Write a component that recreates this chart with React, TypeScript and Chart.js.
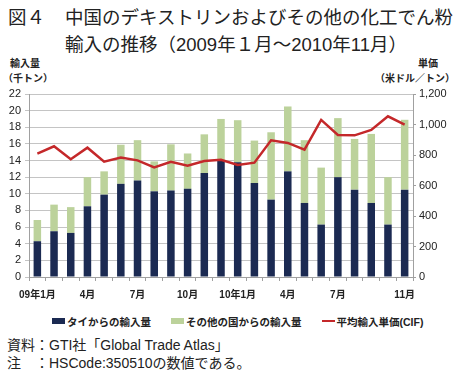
import React, { useEffect, useRef } from "react";
import { Chart, registerables } from "chart.js";

Chart.register(...registerables);

const months = [
  "2009-01","2009-02","2009-03","2009-04","2009-05","2009-06","2009-07","2009-08","2009-09","2009-10","2009-11","2009-12",
  "2010-01","2010-02","2010-03","2010-04","2010-05","2010-06","2010-07","2010-08","2010-09","2010-10","2010-11",
];
const tickLabels = [
  "09年1月","","","4月","","","7月","","","10月","","",
  "10年1月","","","4月","","","7月","","","","11月",
];
const thailand = [4.3, 5.5, 5.3, 8.5, 9.9, 11.2, 11.6, 10.3, 10.4, 10.6, 12.5, 14.0, 13.8, 11.3, 9.3, 12.7, 8.9, 6.3, 12.0, 10.5, 8.9, 6.3, 10.5];
const totals = [6.85, 8.7, 8.4, 12.0, 12.7, 15.9, 16.45, 13.9, 15.95, 14.85, 17.15, 19.0, 18.85, 16.4, 17.4, 20.5, 16.45, 13.15, 19.1, 16.6, 17.2, 12.0, 18.9];
const others = totals.map((t, i) => Math.round((t - thailand[i]) * 100) / 100);
const unitPrice = [809, 857, 772, 848, 756, 783, 765, 719, 756, 730, 761, 769, 734, 750, 896, 879, 835, 1030, 931, 929, 964, 1054, 999];

const NAVY = "#1b2a52";
const GREEN = "#bcd29b";
const RED = "#c4282a";
const GRID = "#c4c4c4";
const AXIS = "#a0a0a0";

const CJK = "'Noto Sans CJK JP', sans-serif";
const MIX = "'Liberation Sans', 'Noto Sans CJK JP', sans-serif";

export default function App() {
  const ref = useRef<HTMLCanvasElement | null>(null);

  useEffect(() => {
    if (!ref.current) return;
    Chart.defaults.font.family = MIX;
    Chart.defaults.color = "#222";
    const chart = new Chart(ref.current, {
      type: "bar",
      data: {
        labels: months,
        datasets: [
          { type: "line", label: "平均輸入単価(CIF)", data: unitPrice, yAxisID: "y1", borderColor: RED, backgroundColor: RED, borderWidth: 2.5, pointRadius: 0, tension: 0, order: 0 } as any,
          { type: "bar", label: "タイからの輸入量", data: thailand, yAxisID: "y", backgroundColor: NAVY, stack: "s", order: 1, barPercentage: 0.45, categoryPercentage: 1 },
          { type: "bar", label: "その他の国からの輸入量", data: others, yAxisID: "y", backgroundColor: GREEN, stack: "s", order: 1, barPercentage: 0.45, categoryPercentage: 1 },
        ],
      },
      options: {
        animation: false,
        responsive: true,
        maintainAspectRatio: false,
        layout: { padding: { top: 14, left: 0, right: 0, bottom: 0 } },
        plugins: { legend: { display: false }, tooltip: { enabled: false } },
        scales: {
          x: {
            stacked: true,
            offset: true,
            grid: { display: true, drawOnChartArea: false, offset: true, tickLength: 4, color: AXIS },
            border: { color: AXIS },
            ticks: {
              autoSkip: false,
              maxRotation: 0,
              padding: 8,
              font: { size: 10, weight: "bold" },
              callback: (_v: any, i: number) => tickLabels[i],
            },
            afterFit: (s: any) => { s.height = 28; },
          },
          y: {
            position: "left",
            stacked: true,
            min: 0,
            max: 22,
            ticks: { stepSize: 2, padding: 4, font: { size: 11 } },
            grid: { color: GRID, tickLength: 4 },
            border: { color: AXIS },
            afterFit: (s: any) => { s.width = 29; },
          },
          y1: {
            position: "right",
            min: 0,
            max: 1200,
            ticks: {
              stepSize: 200,
              padding: 3,
              font: { size: 11 },
              callback: (v: any) => Number(v).toLocaleString("en-US"),
            },
            grid: { drawOnChartArea: false, tickLength: 3, color: AXIS },
            border: { color: AXIS },
            afterFit: (s: any) => { s.width = 44; },
          },
        },
      },
    });
    return () => chart.destroy();
  }, []);

  const legendText: React.CSSProperties = { fontFamily: MIX, fontSize: 10.5, fontWeight: 700, color: "#222", whiteSpace: "nowrap" };

  return (
    <div style={{ position: "absolute", left: 0, top: 0, width: 457, height: 377, background: "#fff", fontFamily: CJK, color: "#222" }}>
      <div style={{ position: "absolute", left: 8, top: 4, fontSize: 18.5, lineHeight: "27px", whiteSpace: "nowrap", fontFamily: MIX }}>
        <div><span style={{ display: "inline-block", width: 57 }}>図４</span>中国のデキストリンおよびその他の化工でん粉</div>
        <div style={{ paddingLeft: 57 }}>輸入の推移（2009年１月～2010年11月）</div>
      </div>
      <div style={{ position: "absolute", left: 10, top: 55, fontSize: 10, fontWeight: 700, lineHeight: "15px" }}>輸入量</div>
      <div style={{ position: "absolute", left: 3, top: 70, fontSize: 10, fontWeight: 700, lineHeight: "15px" }}>（千トン）</div>
      <div style={{ position: "absolute", left: 418, top: 55, fontSize: 10, fontWeight: 700, lineHeight: "15px" }}>単価</div>
      <div style={{ position: "absolute", right: 2, top: 70, fontSize: 10, fontWeight: 700, lineHeight: "15px", whiteSpace: "nowrap" }}>（米ドル／トン）</div>
      <div style={{ position: "absolute", left: 0, top: 80, width: 457, height: 225 }}>
        <canvas ref={ref} />
      </div>
      <div style={{ position: "absolute", left: 52, top: 313, height: 16, display: "flex", alignItems: "center" }}>
        <span style={{ display: "inline-block", width: 13, height: 6, background: NAVY, marginRight: 2 }} />
        <span style={legendText}>タイからの輸入量</span>
        <span style={{ display: "inline-block", width: 13, height: 6, background: GREEN, marginLeft: 20, marginRight: 2 }} />
        <span style={legendText}>その他の国からの輸入量</span>
        <span style={{ display: "inline-block", width: 13, height: 2.5, background: RED, marginLeft: 20, marginRight: 2 }} />
        <span style={legendText}>平均輸入単価(CIF)</span>
      </div>
      <div style={{ position: "absolute", left: 7, top: 336, fontSize: 14, lineHeight: "18px", whiteSpace: "nowrap", fontFamily: MIX }}>
        <div>資料：GTI社「Global Trade Atlas」</div>
        <div>注　：HSCode:350510の数値である。</div>
      </div>
    </div>
  );
}
